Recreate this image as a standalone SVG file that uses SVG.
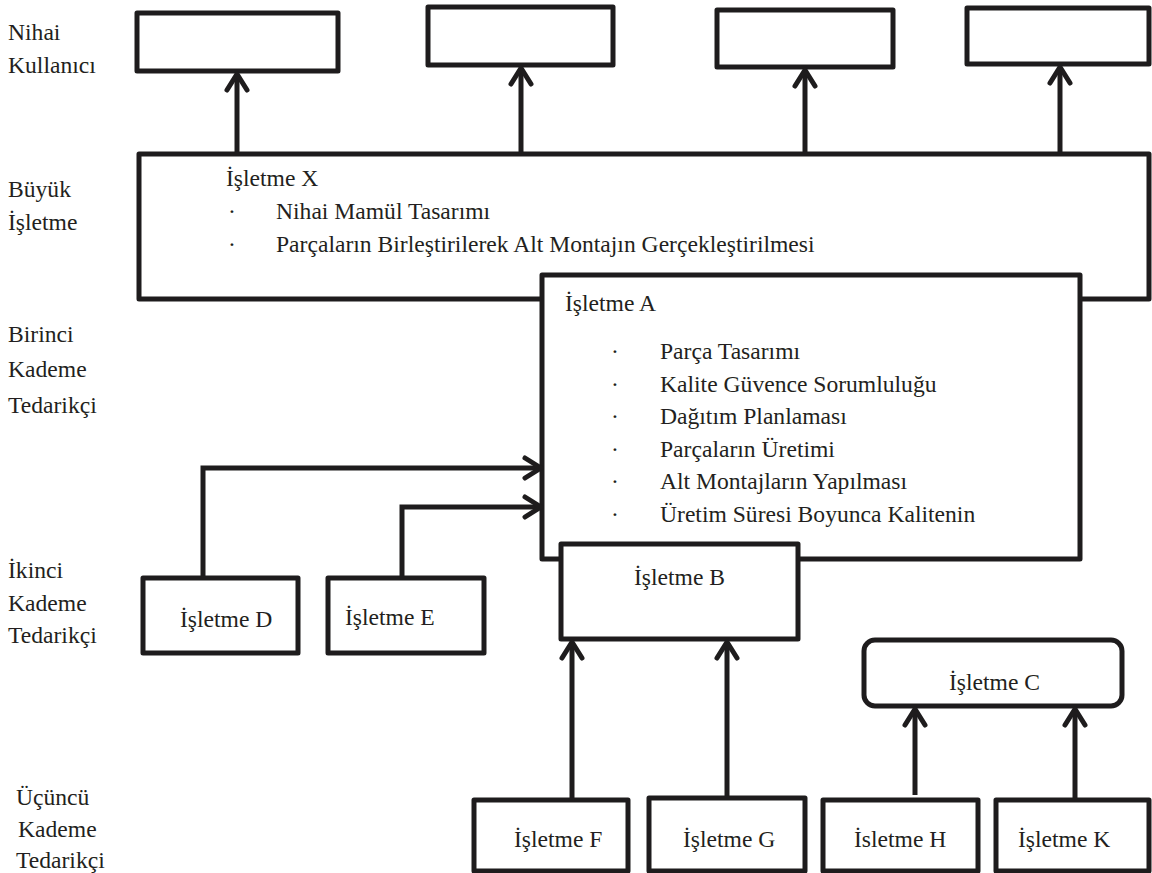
<svg xmlns="http://www.w3.org/2000/svg" width="1152" height="873" viewBox="0 0 1152 873">
  <defs>
    <marker id="arrow" viewBox="-20 -14 24 28" markerWidth="24" markerHeight="28" refX="0" refY="0" orient="auto" markerUnits="userSpaceOnUse" overflow="visible">
      <path d="M-16,-10 L0,0 L-16,10" fill="none" stroke="#1e1c1d" stroke-width="5" stroke-linecap="round" stroke-linejoin="round"/>
    </marker>
  </defs>
  <style>
    .box { fill: none; stroke: #1e1c1d; stroke-width: 5; stroke-linejoin: round; }
    .wbox { fill: #ffffff; stroke: #1e1c1d; stroke-width: 5; stroke-linejoin: round; }
    .conn { fill: none; stroke: #1e1c1d; stroke-width: 5; marker-end: url(#arrow); }
    text { font-family: "Liberation Serif", "Times New Roman", serif; font-size: 23.6px; fill: #231f20; }
  </style>
  <rect width="1152" height="873" fill="#ffffff"/>

  <g id="labels">
    <text x="8" y="40">Nihai</text>
    <text x="8" y="73">Kullanıcı</text>
    <text x="8" y="197">Büyük</text>
    <text x="8" y="230">İşletme</text>
    <text x="8" y="342">Birinci</text>
    <text x="8" y="377">Kademe</text>
    <text x="8" y="413">Tedarikçi</text>
    <text x="8" y="578">İkinci</text>
    <text x="8" y="611">Kademe</text>
    <text x="8" y="643">Tedarikçi</text>
    <text x="16" y="805">Üçüncü</text>
    <text x="18" y="837">Kademe</text>
    <text x="16" y="868">Tedarikçi</text>
  </g>

  <g id="user1"><rect class="box" x="137" y="13" width="201" height="58"/></g>
  <g id="user2"><rect class="box" x="428" y="7" width="185" height="58"/></g>
  <g id="user3"><rect class="box" x="717" y="10" width="176" height="57"/></g>
  <g id="user4"><rect class="box" x="967" y="8" width="182" height="56"/></g>

  <g id="isletmeX">
    <rect class="box" x="139" y="154" width="1010" height="145"/>
    <text x="226" y="186">İşletme X</text>
    <text x="228" y="219">·</text>
    <text x="276" y="219">Nihai Mamül Tasarımı</text>
    <text x="228" y="252">·</text>
    <text x="276" y="252">Parçaların Birleştirilerek Alt Montajın Gerçekleştirilmesi</text>
  </g>

  <g id="isletmeA">
    <rect class="wbox" x="542" y="275" width="538" height="284"/>
    <text x="565" y="311">İşletme A</text>
    <text x="611" y="359">·</text><text x="660" y="359">Parça Tasarımı</text>
    <text x="611" y="392">·</text><text x="660" y="392">Kalite Güvence Sorumluluğu</text>
    <text x="611" y="424">·</text><text x="660" y="424">Dağıtım Planlaması</text>
    <text x="611" y="457">·</text><text x="660" y="457">Parçaların Üretimi</text>
    <text x="611" y="489">·</text><text x="660" y="489">Alt Montajların Yapılması</text>
    <text x="611" y="522">·</text><text x="660" y="522">Üretim Süresi Boyunca Kalitenin</text>
  </g>

  <g id="isletmeB">
    <rect class="wbox" x="561" y="544" width="237" height="95"/>
    <text x="634" y="585">İşletme B</text>
  </g>

  <g id="isletmeC">
    <rect class="box" x="864" y="640" width="258" height="66" rx="11"/>
    <text x="949" y="690">İşletme C</text>
  </g>

  <g id="isletmeD">
    <rect class="box" x="143" y="578" width="155" height="75"/>
    <text x="180" y="627">İşletme D</text>
  </g>

  <g id="isletmeE">
    <rect class="box" x="328" y="578" width="156" height="75"/>
    <text x="345" y="625">İşletme E</text>
  </g>

  <g id="isletmeF">
    <rect class="box" x="474" y="800" width="154" height="71"/>
    <text x="514" y="847">İşletme F</text>
  </g>
  <g id="isletmeG">
    <rect class="box" x="649" y="798" width="156" height="73"/>
    <text x="683" y="847">İşletme G</text>
  </g>
  <g id="isletmeH">
    <rect class="box" x="823" y="800" width="155" height="71"/>
    <text x="854" y="847">İsletme H</text>
  </g>
  <g id="isletmeK">
    <rect class="box" x="996" y="800" width="153" height="71"/>
    <text x="1018" y="847">İşletme K</text>
  </g>

  <g id="connectors">
    <path class="conn" d="M237,154 V74"/>
    <path class="conn" d="M521,154 V68"/>
    <path class="conn" d="M805,154 V70"/>
    <path class="conn" d="M1060,154 V67"/>
    <path class="conn" d="M203,578 V468 H541"/>
    <path class="conn" d="M402,578 V507 H541"/>
    <path class="conn" d="M572,800 V642"/>
    <path class="conn" d="M727,798 V642"/>
    <path class="conn" d="M915,795 V709"/>
    <path class="conn" d="M1075,800 V709"/>
  </g>
</svg>
